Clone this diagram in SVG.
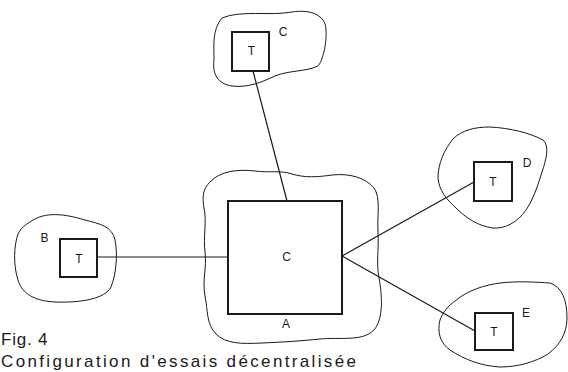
<svg xmlns="http://www.w3.org/2000/svg" width="568" height="372" viewBox="0 0 568 372">
  <style>
    .area { fill: none; stroke: #1a1a1a; stroke-width: 1; stroke-linejoin: round; }
    .box { fill: #ffffff; stroke: #1a1a1a; stroke-width: 2; }
    .link { fill: none; stroke: #1a1a1a; stroke-width: 1.2; }
    .lbl { font-family: "Liberation Sans", Arial, sans-serif; font-size: 12px; fill: #1a1a1a; text-anchor: middle; }
    .cap { font-family: "Liberation Sans", Arial, sans-serif; font-size: 17px; fill: #1a1a1a; }
  </style>

  <rect width="568" height="372" fill="#ffffff"/>

  <!-- connectors from the central computer to each terminal -->
  <g id="connectors">
    <line class="link" x1="253" y1="71" x2="287" y2="201"/>
    <line class="link" x1="228" y1="257" x2="97" y2="257"/>
    <line class="link" x1="342" y1="256" x2="474" y2="182"/>
    <line class="link" x1="342" y1="256" x2="475" y2="331"/>
  </g>

  <!-- site A: central computer C -->
  <g id="site-A">
    <path class="area" d="M 210,182 C 220,171 238,169 255,171 C 270,173 280,170 292,174 C 305,178 318,177 332,175 C 350,173 366,178 374,188 C 381,198 377,215 378,232 C 379,250 376,262 379,278 C 382,295 384,318 374,330 C 362,342 340,337 320,339 C 300,341 285,342 262,343 C 242,344 226,344 216,334 C 206,324 208,310 205,296 C 202,280 207,268 205,252 C 203,236 207,222 204,208 C 202,196 203,189 210,182 Z"/>
    <rect class="box" x="228" y="201" width="114" height="113" fill="none"/>
    <text class="lbl" x="286.5" y="261">C</text>
    <text class="lbl" x="286" y="328">A</text>
  </g>

  <!-- site C: terminal -->
  <g id="site-C">
    <path class="area" d="M 222,18 C 240,10 270,16 292,12 C 310,9 326,15 326,30 C 327,45 322,62 318,66 C 305,72 290,70 275,76 C 262,82 248,88 232,86 C 218,84 212,74 214,60 C 214,45 212,30 222,18 Z"/>
    <rect class="box" x="232" y="32" width="37" height="39"/>
    <text class="lbl" x="251.5" y="55">T</text>
    <text class="lbl" x="283" y="36">C</text>
  </g>

  <!-- site B: terminal -->
  <g id="site-B">
    <path class="area" d="M 30,222 C 45,211 65,214 85,220 C 100,224 112,226 115,240 C 118,255 116,275 111,287 C 105,299 80,303 55,302 C 35,301 22,294 18,280 C 13,265 14,245 18,234 C 21,228 25,225 30,222 Z"/>
    <rect class="box" x="60" y="239" width="37" height="38"/>
    <text class="lbl" x="79" y="263">T</text>
    <text class="lbl" x="44.5" y="242">B</text>
  </g>

  <!-- site D: terminal -->
  <g id="site-D">
    <path class="area" d="M 453,139 C 462,130 475,127 490,127 C 510,128 530,133 543,140 C 550,146 546,160 542,172 C 538,185 533,200 526,210 C 518,222 505,229 493,228 C 478,226 466,218 456,208 C 446,199 439,190 438,178 C 438,164 444,150 453,139 Z"/>
    <rect class="box" x="474" y="162" width="38" height="39"/>
    <text class="lbl" x="493" y="185.5">T</text>
    <text class="lbl" x="527" y="167">D</text>
  </g>

  <!-- site E: terminal -->
  <g id="site-E">
    <path class="area" d="M 455,301 C 468,290 485,285 500,283 C 518,281 535,282 550,283 C 562,287 567,300 567,318 C 567,333 560,345 548,354 C 535,362 518,367 500,367 C 482,366 465,360 450,350 C 440,343 437,332 440,320 C 443,312 448,306 455,301 Z"/>
    <rect class="box" x="475" y="313" width="38" height="37"/>
    <text class="lbl" x="494" y="336">T</text>
    <text class="lbl" x="526" y="317">E</text>
  </g>

  <!-- caption -->
  <g id="caption">
    <text class="cap" x="1" y="345" letter-spacing="0.8">Fig. 4</text>
    <text class="cap" x="1" y="367" textLength="355" lengthAdjust="spacing">Configuration d'essais décentralisée</text>
  </g>
</svg>
